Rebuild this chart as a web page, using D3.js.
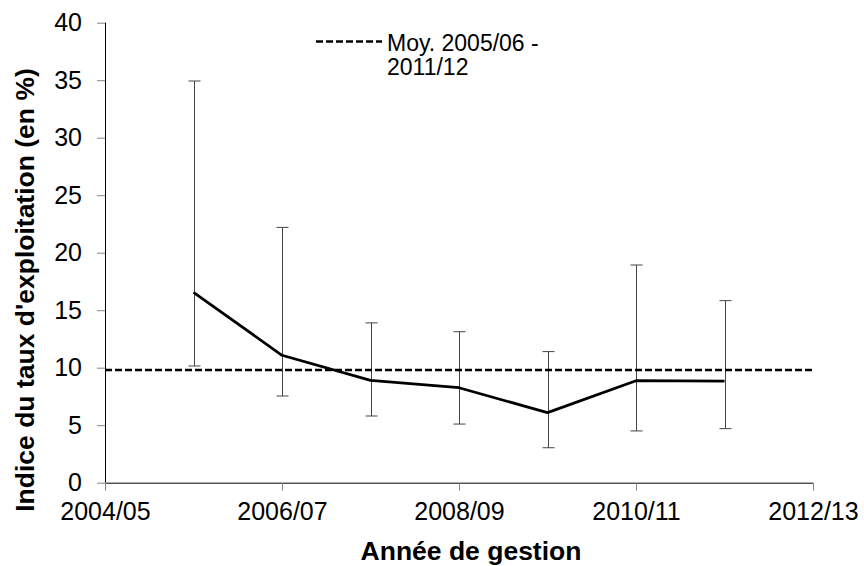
<!DOCTYPE html>
<html><head><meta charset="utf-8">
<script src="https://cdn.jsdelivr.net/npm/d3@7"></script>
<style>body{margin:0;background:#fff;}svg{display:block;font-family:"Liberation Sans",Arial,sans-serif;}</style>
</head><body><svg id="c" width="864" height="566"></svg>
<script>
const yearStarts = [2005, 2006, 2007, 2008, 2009, 2010, 2011];
const seasons = ["2005/06","2006/07","2007/08","2008/09","2009/10","2010/11","2011/12"];
const values = [16.56, 11.08, 8.9, 8.26, 6.09, 8.87, 8.84];
const upper = [34.93, 22.2, 13.9, 13.13, 11.4, 18.93, 15.83];
const lower = [10.15, 7.54, 5.8, 5.1, 3.04, 4.5, 4.7];
const meanValue = [9.8];
const xTickValues = [2004, 2006, 2008, 2010, 2012];
const xTickLabels = ["2004/05","2006/07","2008/09","2010/11","2012/13"];
const yTicks = [0,5,10,15,20,25,30,35,40];
const legendLines = ["Moy. 2005/06 -", "2011/12"];

const svg = d3.select("#c");
const x = d3.scaleLinear().domain([2004, 2012]).range([105, 813]);
const y = d3.scaleLinear().domain([0, 40]).range([482.7, 22.7]);

// Y axis
const yAxis = svg.append("g").attr("transform","translate(105,0)")
  .call(d3.axisLeft(y).tickValues(yTicks).tickSize(8).tickPadding(15));
yAxis.select(".domain").attr("stroke","#000").attr("d","M0.5,"+y(40)+"V"+y(0));
yAxis.selectAll(".tick line").attr("stroke","#868686");
yAxis.selectAll(".tick text").attr("font-size","25px").attr("fill","#000").attr("font-family","Liberation Sans, Arial, sans-serif");

// X axis
const xAxis = svg.append("g").attr("transform","translate(0,"+y(0)+")")
  .call(d3.axisBottom(x).tickValues(xTickValues).tickFormat((d,i)=>xTickLabels[i]).tickSize(8).tickPadding(12));
xAxis.select(".domain").attr("stroke","#000").attr("d","M"+x(2004)+",0.5H"+x(2012));
xAxis.selectAll(".tick line").attr("stroke","#868686");
xAxis.selectAll(".tick text").attr("font-size","25px").attr("fill","#000").attr("font-family","Liberation Sans, Arial, sans-serif");

// Error bars
const eb = svg.append("g");
seasons.forEach((s,i)=>{
  const cx = Math.round(x(yearStarts[i]))+0.5;
  eb.append("line").attr("x1",cx).attr("x2",cx).attr("y1",y(lower[i])).attr("y2",y(upper[i])).attr("stroke","#444").attr("stroke-width",1);
  [upper[i], lower[i]].forEach(v=>{
    eb.append("line").attr("x1",cx-6).attr("x2",cx+6).attr("y1",y(v)).attr("y2",y(v)).attr("stroke","#444").attr("stroke-width",1);
  });
});

// Mean dashed line
svg.append("line").attr("x1",x(2004)).attr("x2",x(2012)).attr("y1",y(meanValue[0])).attr("y2",y(meanValue[0]))
  .attr("stroke","#000").attr("stroke-width",2.4).attr("stroke-dasharray","7,3");

// Main line
svg.append("path").datum(values.map((v,i)=>[yearStarts[i], v]))
  .attr("fill","none").attr("stroke","#000").attr("stroke-width",2.75).attr("stroke-linejoin","round")
  .attr("d", d3.line().x(d=>x(d[0])).y(d=>y(d[1])));

// Legend
svg.append("line").attr("x1",316).attr("x2",382).attr("y1",41.5).attr("y2",41.5)
  .attr("stroke","#000").attr("stroke-width",2.4).attr("stroke-dasharray","7,3");
legendLines.forEach((t,i)=>{
  svg.append("text").attr("x",387).attr("y",50.5+i*24.5).attr("font-size","23px").attr("fill","#000").text(t);
});

// Axis titles
svg.append("text").attr("x",471).attr("y",560).attr("text-anchor","middle").attr("font-size","26.5px").attr("font-weight","bold").text("Année de gestion");
svg.append("text").attr("transform","translate(34,290) rotate(-90)").attr("text-anchor","middle").attr("font-size","26.5px").attr("font-weight","bold").text("Indice du taux d'exploitation (en %)");
</script></body></html>
